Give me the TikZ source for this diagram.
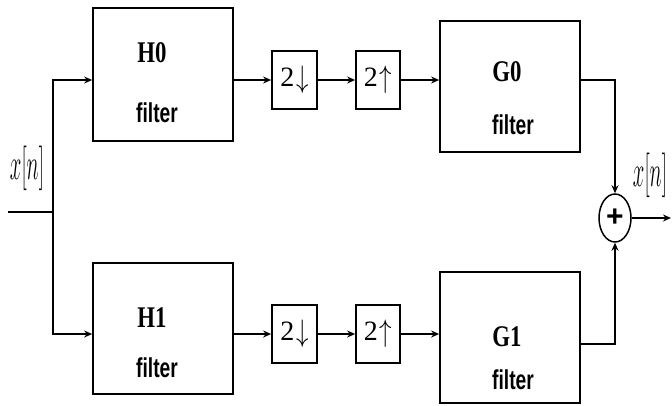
\documentclass[tikz,border=0pt]{standalone}
\usepackage{fontspec}
\setmainfont{Liberation Serif}
\newfontfamily\sansf{Liberation Sans}
\usetikzlibrary{arrows.meta,shapes.geometric,calc}
\newcommand{\dnarr}{\raisebox{-1pt}{\scalebox{1}[1.25]{$\downarrow$}}}
\newcommand{\uparr}{\raisebox{-1pt}{\scalebox{1}[1.25]{$\uparrow$}}}
\tikzset{
  blk/.style={draw, line width=1.7pt, rectangle, inner sep=0pt},
  bigbox/.style={blk, minimum width=140pt, minimum height=132pt},
  rate/.style={blk, minimum width=45pt, minimum height=58pt},
  conn/.style={line width=1.7pt},
  arr/.style={conn, -{Stealth[length=8pt,width=7pt]}},
  lbl/.style={inner sep=0pt, font=\bfseries\fontsize{24}{24}\selectfont, xscale=0.95, yscale=1.25},
  flt/.style={inner sep=0pt, font=\sansf\bfseries\fontsize{26}{26}\selectfont, xscale=0.74, yscale=1.05},
  sig/.style={inner sep=0pt, font=\fontsize{22}{22}\selectfont, yscale=2.15},
  rtxt/.style={font=\fontsize{28}{28}\selectfont}
}
\begin{document}
\begin{tikzpicture}[x=1pt,y=-1pt]
\useasboundingbox (0,0) rectangle (672,405);
% boxes
\node[bigbox, minimum height=133pt] (H0) at (163,74.5) {};
\node[bigbox, minimum height=131pt] (H1) at (163,328.5) {};
\node[rate, rtxt] (D0) at (294.5,80) {2\kern2pt\dnarr};
\node[rate, rtxt] (D1) at (294.5,334) {2\kern2pt\dnarr};
\node[rate, rtxt, minimum width=44pt] (U0) at (378,80) {2\kern2pt\uparr};
\node[rate, rtxt, minimum width=44pt] (U1) at (378,334) {2\kern2pt\uparr};
\node[bigbox, minimum height=131pt] (G0) at (510,86.5) {};
\node[bigbox, minimum height=131pt] (G1) at (510,337.5) {};
\node[draw, ellipse, line width=1.5pt, minimum width=32pt, minimum height=48pt, inner sep=0pt] (S) at (615,218) {\sansf\bfseries\fontsize{30}{30}\selectfont +};
% box labels
\node[lbl] (tH0) at (152,53) {H0};
\node[flt] (fH0) at (157,113) {filter};
\node[lbl] (tH1) at (152,318) {H1};
\node[flt] (fH1) at (157,368) {filter};
\node[lbl] (tG0) at (507,72) {G0};
\node[flt] (fG0) at (513,125) {filter};
\node[lbl] (tG1) at (507,337) {G1};
\node[flt] (fG1) at (513,380) {filter};
% signal labels
\node[sig] (xin) at (27,168) {$x[n]$};
\node[sig] (xout) at (650,175) {$x[n]$};
% connectors
\coordinate (in) at (8,212);
\coordinate (br) at (53,212);
\coordinate (out) at (671,218);
\draw[conn] (in) -- (br);
\draw[arr] (br) |- (H0.west |- D0);
\draw[arr] (br) |- (H1.west |- D1);
\draw[arr] (H0.east |- D0) -- (D0.west);
\draw[arr] (H1.east |- D1) -- (D1.west);
\draw[arr] (D0.east) -- (U0.west);
\draw[arr] (D1.east) -- (U1.west);
\draw[arr] (U0.east) -- (G0.west |- U0);
\draw[arr] (U1.east) -- (G1.west |- U1);
\draw[arr] (G0.east |- U0) -| (S.north);
\draw[arr] ($(G1.east)+(0,6.5)$) -| (S.south);
\draw[arr] (S.east) -- (out);
\end{tikzpicture}
\end{document}
